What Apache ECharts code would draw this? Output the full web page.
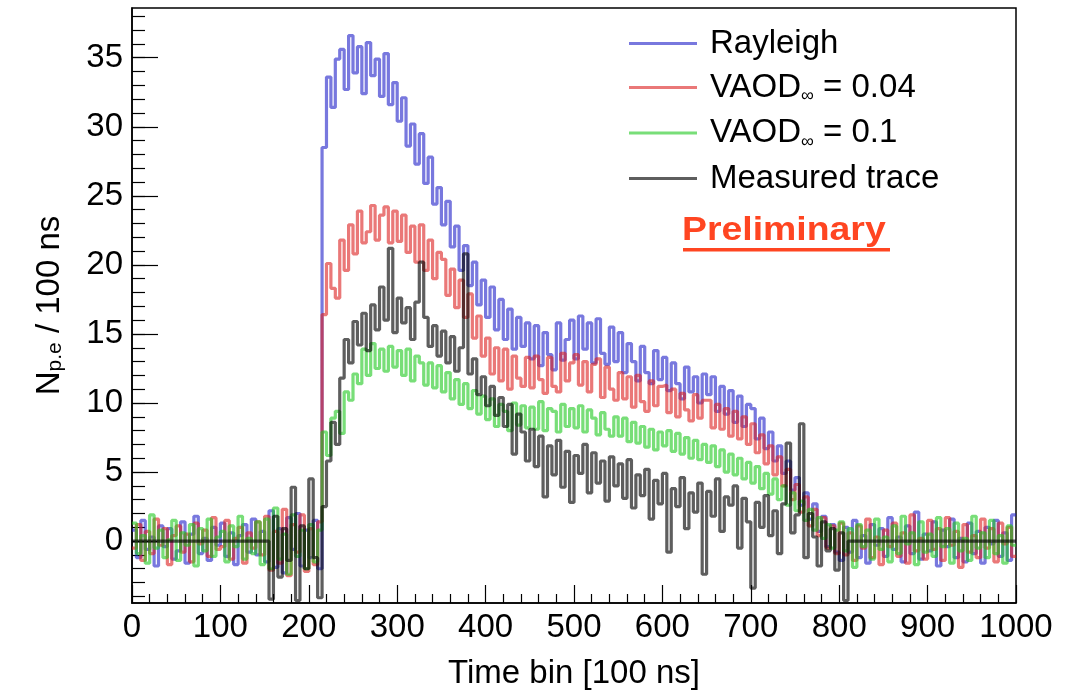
<!DOCTYPE html>
<html><head><meta charset="utf-8">
<script src="https://cdn.jsdelivr.net/npm/echarts@6/dist/echarts.min.js"></script>
<style>html,body{margin:0;padding:0;background:#fff}#c{width:1082px;height:695px}</style>
</head><body><div id="c"></div>
<script>
// Histogram bin width (in time bins) of the stored samples; sample i covers [i*binWidth, (i+1)*binWidth)
const binWidth = 5;

const rayleigh = [
  0.8,-1.2,1.5,-0.6,0.3,-1.8,1.1,-0.4,0.9,-1.3,
  -0.7,1.4,-1.6,0.5,1.8,-0.9,0.2,-1.4,1.0,-0.3,
  1.3,-1.1,0.6,-1.7,0.4,1.2,-0.8,1.6,-1.0,0.7,
  -1.5,2.2,-1.9,0.9,-2.3,1.7,-0.6,2.0,-1.8,0.8,
  -1.2,1.5,-2.0,28.5,33.6,31.4,34.9,35.6,32.7,36.6,
  33.9,35.8,32.4,36.1,33.7,34.9,32.2,35.3,31.6,33.2,
  30.4,32.1,28.6,30.2,27.3,29.5,25.9,27.8,24.4,25.6,
  22.9,24.6,21.3,22.8,19.6,21.4,18.5,20.2,17.1,18.9,
  16.2,18.4,15.3,17.5,14.6,16.8,13.9,16.2,14.1,15.8,
  13.2,15.6,12.7,15.1,13.5,12.4,15.8,13.1,14.6,16.0,
  13.2,16.3,13.9,15.8,12.9,16.1,13.6,12.8,15.5,13.0,
  15.1,12.2,14.3,13.0,11.6,14.1,12.2,11.4,13.8,11.7,
  13.3,10.9,12.9,11.4,10.3,12.6,10.8,11.9,10.0,12.1,
  10.6,11.9,9.4,11.2,9.2,10.9,8.6,10.5,8.3,9.9,
  9.6,7.4,8.9,6.7,7.9,5.8,6.9,4.9,5.8,3.7,
  4.6,2.6,3.5,1.6,2.7,0.7,1.8,-0.4,1.2,-0.8,
  -1.4,1.0,-0.8,1.5,-1.2,0.4,-1.6,1.2,-0.3,0.9,
  -1.1,1.7,-0.6,0.3,-1.5,1.1,-0.9,2.1,-1.3,0.5,
  -0.7,1.4,-1.8,0.8,-0.4,1.6,-1.2,0.2,-1.5,1.3,
  -0.9,0.7,-1.6,1.0,-0.2,1.5,-1.1,0.6,-1.4,1.9
];

const vaod004 = [
  -0.5,1.2,-1.4,0.7,-0.9,1.6,-0.3,0.9,-1.7,0.4,
  1.1,-0.8,0.5,-1.5,1.3,-0.2,0.8,-1.1,1.7,-0.6,
  -0.4,1.5,-1.3,0.2,1.0,-1.6,0.6,-0.5,1.4,-1.0,
  1.8,-2.1,0.7,-1.6,2.3,-2.5,1.2,-0.8,1.9,-2.2,
  0.9,-1.7,1.4,16.4,20.1,18.3,17.6,21.8,19.6,22.9,
  20.8,23.9,21.6,22.4,24.3,21.8,23.6,24.2,21.6,23.9,
  21.7,23.6,20.9,22.8,20.2,22.9,19.6,21.8,19.0,20.9,
  20.4,17.8,19.7,16.9,18.9,16.2,17.9,14.7,16.3,13.4,
  14.7,12.1,14.0,11.6,13.9,11.0,13.4,11.8,11.2,13.3,
  11.1,13.4,11.7,10.7,13.3,11.2,10.8,13.6,11.6,12.9,
  13.5,11.3,13.0,10.8,12.8,13.2,10.4,12.6,11.0,10.2,
  12.2,10.3,11.9,9.7,12.0,10.1,9.4,11.6,9.8,11.2,
  11.3,9.3,11.0,9.0,10.7,9.5,8.7,10.6,8.9,10.2,
  10.2,8.2,9.9,8.1,9.6,7.6,9.4,7.4,9.0,7.0,
  8.5,6.4,7.7,5.6,6.9,4.8,6.1,4.0,5.2,3.0,
  4.1,2.1,3.2,1.1,2.3,0.4,1.7,-0.5,1.1,-0.9,
  1.3,-1.0,0.6,-1.4,1.1,-0.5,1.6,-1.2,0.3,-1.7,
  0.8,-0.4,1.3,-1.1,0.6,-1.6,1.9,-0.7,0.2,-1.3,
  1.5,-0.6,0.9,-1.4,1.7,-0.3,0.7,-1.9,1.2,-0.8,
  0.4,-1.2,1.6,-0.5,0.9,-1.5,1.3,-0.2,1.0,-1.1
];

const vaod01 = [
  1.3,-0.9,0.4,-1.6,1.9,-0.5,0.8,-1.2,0.1,1.5,
  -1.4,0.6,-0.3,1.2,-1.8,0.9,-0.7,1.6,-1.1,0.3,
  0.7,-1.5,1.1,-0.4,1.8,-1.3,0.2,-0.9,1.4,-1.7,
  1.6,-2.0,2.4,-1.3,0.5,-2.4,1.9,-1.1,0.8,-2.0,
  1.2,-1.5,0.8,7.9,6.2,8.9,9.4,7.8,10.8,10.2,
  12.1,11.4,13.9,12.0,14.3,12.5,13.9,12.3,14.1,12.6,
  13.8,12.0,13.9,11.6,13.4,12.9,11.3,12.9,11.1,12.7,
  10.8,12.2,10.3,11.7,9.9,11.4,9.6,10.9,9.2,10.5,
  8.8,10.3,8.3,9.9,9.4,8.0,10.0,8.4,9.8,8.2,
  9.7,8.1,10.1,8.0,9.6,9.4,7.9,9.9,8.3,9.6,
  8.2,9.8,7.9,9.5,8.9,7.7,9.3,8.1,7.6,9.0,
  7.6,8.9,7.2,8.6,7.1,8.3,6.8,8.1,6.6,7.9,
  6.9,8.0,6.5,7.8,6.3,7.5,6.0,7.3,5.9,7.0,
  5.7,6.9,5.4,6.6,5.0,6.3,4.8,6.0,4.5,5.7,
  4.2,5.4,3.8,4.9,3.4,4.5,3.0,4.0,2.6,3.5,
  2.2,2.9,1.5,2.3,0.8,1.7,0.2,1.2,-0.5,0.8,
  1.4,-0.7,0.9,-1.9,1.2,-0.4,0.8,-1.3,1.6,-0.6,
  0.3,-1.5,1.1,-0.9,1.8,-0.2,0.6,-1.7,1.4,-0.8,
  0.5,-1.1,1.7,-0.4,0.9,-1.6,1.3,-0.7,0.2,-1.4,
  1.8,-0.5,0.6,-1.2,1.5,-0.9,0.4,-1.6,1.1,-0.3
];

const measured = [
  0,0,0,0,0,0,0,0,0,0,
  0,0,0,0,0,0,0,0,0,0,
  0,0,0,0,0,0,0,0,0,0,
  0,-4.2,1.8,-2.6,0.9,-1.4,3.9,-4.3,1.1,-2.0,
  4.5,-1.2,-4.1,2.5,5.8,8.6,7.0,11.8,14.6,12.9,
  15.9,14.2,16.5,13.8,17.1,15.3,18.4,16.0,21.2,15.1,
  17.6,15.8,16.9,14.6,17.3,20.2,16.2,14.1,15.6,13.4,
  15.2,12.9,14.8,12.3,14.0,20.8,12.1,13.2,10.6,11.9,
  9.8,11.2,9.1,10.4,8.3,9.9,6.3,9.2,7.9,5.8,
  8.1,5.4,7.6,3.2,6.9,4.8,7.3,3.9,6.5,2.8,
  6.2,4.9,7.0,3.5,6.4,4.2,5.8,2.9,6.1,4.0,
  5.6,3.1,5.9,2.4,4.8,3.3,5.2,1.6,4.4,2.7,
  4.9,-0.8,3.8,2.5,4.6,0.9,3.5,2.1,4.2,-2.4,
  3.6,1.8,4.5,0.7,3.2,2.6,4.0,-0.5,3.1,1.4,
  -3.4,2.8,1.0,3.3,0.4,2.2,-0.9,2.7,7.1,0.6,
  1.9,8.5,-1.2,2.0,0.3,-1.8,1.4,-0.7,0.9,-2.1,
  0.6,-4.3,0,0,0,0,0,0,0,0,
  0,0,0,0,0,0,0,0,0,0,
  0,0,0,0,0,0,0,0,0,0,
  0,0,0,0,0,0,0,0,0,0
];

const seriesNames = ['Rayleigh', 'VAOD\u221E = 0.04', 'VAOD\u221E = 0.1', 'Measured trace'];
const seriesData = [rayleigh, vaod004, vaod01, measured];
const seriesColors = ['rgba(30,30,200,0.6)', 'rgba(220,30,30,0.6)', 'rgba(30,200,30,0.6)', 'rgba(0,0,0,0.63)'];

const xMin = 0, xMax = 1000, xStep = 100;
const yMin = -4.48, yMax = 38.6;
const yMajorTicks = [0, 5, 10, 15, 20, 25, 30, 35];
const yMinorTicks = [-4,-3,-2,-1,0,1,2,3,4,5,6,7,8,9,10,11,12,13,14,15,16,17,18,19,20,21,22,23,24,25,26,27,28,29,30,31,32,33,34,35,36,37,38];

const FONT = '"Liberation Sans", Arial, Helvetica, sans-serif';

function toSteps(arr) {
  const d = arr.map((v, i) => [i * binWidth, v]);
  d.push([arr.length * binWidth, arr[arr.length - 1]]);
  return d;
}

const chart = echarts.init(document.getElementById('c'), null, {renderer: 'canvas'});

const option = {
  animation: false,
  backgroundColor: '#fff',
  textStyle: {fontFamily: FONT},
  grid: {left: 132, right: 66, top: 8, bottom: 91, show: true, borderColor: '#000', borderWidth: 1.5, backgroundColor: 'transparent'},
  xAxis: {
    type: 'value', min: xMin, max: xMax, interval: xStep,
    axisLine: {show: true, onZero: false, lineStyle: {color: '#000', width: 1.5}},
    axisTick: {show: true, inside: true, length: 18, lineStyle: {color: '#000', width: 1.2}},
    minorTick: {show: true, splitNumber: 5, length: 9, lineStyle: {color: '#000', width: 1.2}},
    splitLine: {show: false},
    axisLabel: {color: '#000', fontSize: 33, fontFamily: FONT, margin: 8, showMinLabel: true, showMaxLabel: true, hideOverlap: false,
      formatter: function (v) { return String(v); }},
    name: 'Time bin [100 ns]', nameLocation: 'middle', nameGap: 54,
    nameTextStyle: {color: '#000', fontSize: 33, fontFamily: FONT}
  },
  yAxis: [{
    type: 'value', min: yMin, max: yMax,
    axisLine: {show: true, onZero: false, lineStyle: {color: '#000', width: 1.5}},
    axisTick: {show: true, inside: true, length: 26, customValues: yMajorTicks, lineStyle: {color: '#000', width: 1.2}},
    splitLine: {show: false},
    axisLabel: {color: '#000', fontSize: 33, fontFamily: FONT, margin: 9, customValues: yMajorTicks,
      formatter: function (v) { return String(v); }},
    name: '{n|N}{s|p.e}{n| / 100 ns}', nameLocation: 'middle', nameGap: 66,
    nameTextStyle: {
      color: '#000', fontFamily: FONT,
      rich: {
        n: {fontSize: 33, fontFamily: FONT, color: '#000', lineHeight: 40, verticalAlign: 'bottom'},
        s: {fontSize: 21, fontFamily: FONT, color: '#000', lineHeight: 22, verticalAlign: 'bottom'}
      }
    }
  }, {
    type: 'value', min: yMin, max: yMax, position: 'left',
    axisLine: {show: false},
    axisTick: {show: true, inside: true, length: 13, customValues: yMinorTicks, lineStyle: {color: '#000', width: 1.2}},
    axisLabel: {show: false},
    splitLine: {show: false}
  }],
  legend: {
    orient: 'vertical', left: 624, top: 22, itemGap: 11,
    itemWidth: 68, itemHeight: 3, icon: 'rect',
    data: seriesNames,
    formatter: function (name) {
      if (name.indexOf('VAOD\u221E') === 0) {
        return '{a|VAOD}{s|\u221E}{a|' + name.slice(5) + '}';
      }
      return '{a|' + name + '}';
    },
    textStyle: {
      padding: [0, 0, 0, 8],
      rich: {
        a: {fontSize: 33, fontFamily: FONT, color: '#000', lineHeight: 36},
        s: {fontSize: 18, fontFamily: FONT, color: '#000', lineHeight: 20, verticalAlign: 'bottom'}
      }
    }
  },
  graphic: [
    {type: 'text', x: 682, y: 231, scaleX: 1.1, style: {text: 'Preliminary', font: 'bold 34px ' + FONT, fill: '#ff4521', verticalAlign: 'middle', align: 'left'}},
    {type: 'rect', shape: {x: 683, y: 248, width: 207, height: 3.5}, style: {fill: '#ff4521'}}
  ],
  series: seriesNames.map((name, k) => ({
    type: 'line', name: name, data: toSteps(seriesData[k]), step: 'end',
    xAxisIndex: 0, yAxisIndex: 0,
    showSymbol: false, symbol: 'none', clip: true,
    lineStyle: {width: 3.2, color: seriesColors[k]},
    itemStyle: {color: seriesColors[k]},
    emphasis: {disabled: true}
  }))
};

chart.setOption(option);
</script>
</body></html>
